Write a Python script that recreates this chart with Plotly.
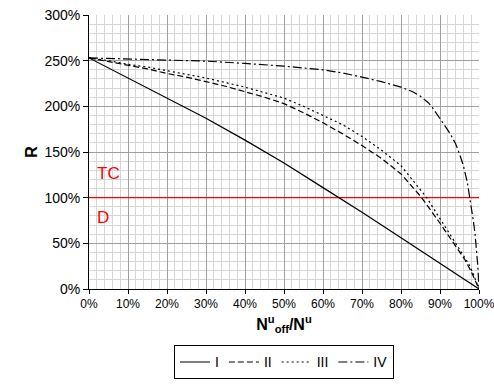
import plotly.graph_objects as go

# Data (x in % of N^u, R in %)
x_I = [0, 10, 20, 30, 40, 50, 60, 70, 80, 90, 100]
r_I = [253, 231, 209, 187, 163, 138, 111, 84, 56, 28, 0]

x_II = [0, 5, 10, 15, 20, 25, 30, 35, 40, 45, 50, 55, 60, 65, 70, 75, 80, 85.3, 90, 93, 96.4, 98, 100]
r_II = [253, 249, 245, 241, 236, 232, 227, 222, 216, 210, 203, 193, 182, 170, 157, 143, 126, 100, 72, 53, 32, 19, 0]

x_III = [0, 5, 10, 15, 20, 25, 30, 35, 40, 45, 50, 55, 60, 65, 70, 75, 80, 86.6, 90, 93, 97.3, 98.5, 100]
r_III = [253, 250, 246, 243, 239, 235, 231, 226, 221, 215, 209, 200, 190, 180, 167, 152, 135, 100, 77, 57, 28, 17, 0]

x_IV = [0, 10, 20, 30, 40, 50, 60, 65, 70, 75, 80, 83, 85, 87, 88, 89, 90, 91, 92, 93, 94, 95, 96, 97, 97.7, 98.5, 99, 99.4, 99.7, 100]
r_IV = [253, 252, 251, 249.5, 247, 244, 240, 236.5, 232, 227, 221, 216, 211, 204, 199, 193, 186, 180, 174, 167, 159, 148, 135, 117, 100, 76, 60, 43, 25, 0]

limit_x = [0, 100]
limit_r = [100, 100]

x_ticks = list(range(0, 101, 10))
x_labels = [f"{v}%" for v in x_ticks]
y_ticks = list(range(0, 301, 50))
y_labels = [f"{v}%" for v in y_ticks]

series = [
    ("I", x_I, r_I, "solid"),
    ("II", x_II, r_II, "6px,3px"),
    ("III", x_III, r_III, "2px,3px"),
    ("IV", x_IV, r_IV, "9px,3px,2px,3px"),
]

fig = go.Figure()
fig.add_trace(go.Scatter(x=limit_x, y=limit_r, mode="lines",
                         line=dict(color="#ff0000", width=1.3),
                         showlegend=False, hoverinfo="skip"))
for name, xs, ys, dash in series:
    fig.add_trace(go.Scatter(x=xs, y=ys, mode="lines", name=name,
                             line=dict(color="black", width=1.2, dash=dash)))

fig.add_annotation(x=1.5, y=127, text="TC", showarrow=False, xanchor="left",
                   yanchor="middle", font=dict(color="#ff0000", size=17))
fig.add_annotation(x=1.5, y=78, text="D", showarrow=False, xanchor="left",
                   yanchor="middle", font=dict(color="#ff0000", size=17))

fig.update_layout(
    width=494, height=385,
    margin=dict(l=89, r=15, t=15, b=96, autoexpand=False),
    paper_bgcolor="white", plot_bgcolor="white",
    font=dict(family="Liberation Sans, Arial, sans-serif", color="black"),
    showlegend=True,
    legend=dict(orientation="h", x=0.5, xanchor="center", y=-0.33, yanchor="bottom",
                bordercolor="black", borderwidth=1, font=dict(size=14),
                itemwidth=30, tracegroupgap=0, entrywidth=0, valign="middle"),
    xaxis=dict(range=[0, 100], tickvals=x_ticks, ticktext=x_labels,
               showgrid=True, gridcolor="#a0a0a0", gridwidth=1,
               minor=dict(dtick=2, showgrid=True, gridcolor="#d6d6d6", gridwidth=1),
               showline=True, linecolor="black", linewidth=1,
               ticks="outside", ticklen=4, tickcolor="black", ticklabeloverflow="allow",
               tickfont=dict(size=12), zeroline=False, automargin=False,
               title=dict(text="<b>N<sup>u</sup><sub>off</sub>/N<sup>u</sup></b>",
                          font=dict(size=16), standoff=8)),
    yaxis=dict(range=[0, 300], tickvals=y_ticks, ticktext=y_labels,
               showgrid=True, gridcolor="#a0a0a0", gridwidth=1,
               minor=dict(dtick=10, showgrid=True, gridcolor="#d6d6d6", gridwidth=1),
               showline=True, linecolor="black", linewidth=1,
               ticks="outside", ticklen=5, tickcolor="black",
               tickfont=dict(size=14), zeroline=False, automargin=False,
               title=dict(text="<b>R</b>", font=dict(size=16), standoff=2)),
)

fig.write_html("out.html", config={"displayModeBar": False},
               post_script="document.body.style.margin='0';document.body.style.overflow='hidden';"
                           "document.documentElement.style.overflow='hidden';")
